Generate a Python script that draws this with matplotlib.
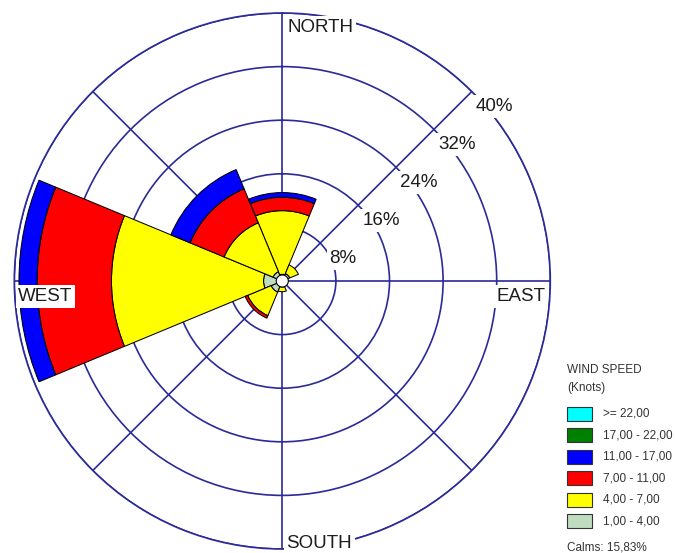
import numpy as np
import matplotlib
matplotlib.use('Agg')
import matplotlib.pyplot as plt
from matplotlib.patches import Rectangle

plt.rcParams['font.family'] = ['Liberation Sans', 'DejaVu Sans']

# wind directions (sector centres), percent frequency per speed class
directions = ['N', 'NE', 'E', 'SE', 'S', 'SW', 'W', 'NW']
dir_angles = [0, 45, 90, 135, 180, 225, 270, 315]
spd_1_4 = [1.0, 1.2, 0.6, 0.4, 0.9, 1.8, 2.8, 1.5]
spd_4_7 = [9.5, 1.4, 0.0, 0.0, 0.7, 3.8, 22.7, 7.9]
spd_7_11 = [2.0, 0.0, 0.0, 0.0, 0.0, 0.4, 11.1, 5.5]
spd_11_17 = [0.7, 0.0, 0.0, 0.0, 0.0, 0.0, 2.7, 3.1]
spd_17_22 = [0.0, 0.0, 0.0, 0.0, 0.0, 0.0, 0.0, 0.0]
spd_22_up = [0.0, 0.0, 0.0, 0.0, 0.0, 0.0, 0.0, 0.0]

speed_classes = [spd_1_4, spd_4_7, spd_7_11, spd_11_17, spd_17_22, spd_22_up]
class_labels = ['1,00 - 4,00', '4,00 - 7,00', '7,00 - 11,00',
                '11,00 - 17,00', '17,00 - 22,00', '>= 22,00']
class_colors = ['#C0DCC0', '#FFFF00', '#FF0000', '#0000FF', '#008000', '#00FFFF']

ring_values = [8, 16, 24, 32, 40]
ring_labels = ['8%', '16%', '24%', '32%', '40%']
compass_labels = ['NORTH', 'EAST', 'SOUTH', 'WEST']
calm_radius = 0.9
calms_text = 'Calms: 15,83%'

grid_col = '#2a2a98'
txt_col = '#1c1c1c'

fig = plt.figure(figsize=(6.75, 5.53), dpi=100)
W, H = 675.0, 553.0
cx, cy, R = 282.3, 281.0, 268.0
ax = fig.add_axes([(cx - R) / W, (H - cy - R) / H, 2 * R / W, 2 * R / H],
                  projection='polar')
ax.set_theta_zero_location('N')
ax.set_theta_direction(-1)
ax.set_ylim(0, 40)
ax.set_axisbelow(True)

theta = np.deg2rad(dir_angles)
width = np.deg2rad(45)
bottom = np.zeros(len(directions))
for vals, col in zip(speed_classes, class_colors):
    vals = np.array(vals)
    m = vals > 0
    ax.bar(theta[m], vals[m], width=width, bottom=bottom[m], color=col,
           edgecolor='black', linewidth=0.75, zorder=2)
    bottom = bottom + vals

# calm circle
t = np.linspace(0, 2 * np.pi, 100)
ax.fill(t, np.full_like(t, calm_radius), facecolor='white', edgecolor='black',
        linewidth=0.8, zorder=3)

ax.set_rgrids(ring_values, labels=[''] * len(ring_values))
ax.set_thetagrids(dir_angles, labels=[''] * len(dir_angles))
ax.grid(True, color=grid_col, linewidth=1.2)
ax.spines['polar'].set_color(grid_col)
ax.spines['polar'].set_linewidth(1.2)
ax.tick_params(length=0)

box = dict(facecolor='white', edgecolor='none', pad=2)
for r, lab in zip(ring_values, ring_labels):
    ax.annotate(lab, xy=(np.pi / 4, r), xytext=(16.5, -11), textcoords='offset points',
                ha='center', va='center', fontsize=13.5, color=txt_col, bbox=box, zorder=5)

# compass labels
ax.annotate(compass_labels[0], xy=(0, 40), xytext=(3.4, -4.3), textcoords='offset points',
            ha='left', va='top', fontsize=13.5, color=txt_col, bbox=box, zorder=5)
ax.annotate(compass_labels[1], xy=(np.pi / 2, 40), xytext=(-3.6, -5.0), textcoords='offset points',
            ha='right', va='top', fontsize=13.5, color=txt_col, bbox=box, zorder=5)
ax.annotate(compass_labels[2], xy=(np.pi, 40), xytext=(3.0, 0.7), textcoords='offset points',
            ha='left', va='baseline', fontsize=13.5, color=txt_col, bbox=box, zorder=5)
ax.annotate(compass_labels[3], xy=(3 * np.pi / 2, 40), xytext=(2.9, -5.0), textcoords='offset points',
            ha='left', va='top', fontsize=13.5, color=txt_col, bbox=box, zorder=5)

# legend
def fx(px):
    return px / W

def fy(py):
    return 1 - py / H

leg_fs = 8.5
fig.text(fx(567), fy(364), 'WIND SPEED', fontsize=leg_fs, color='#333333', va='top')
fig.text(fx(567), fy(382), '(Knots)', fontsize=leg_fs, color='#333333', va='top')
leg_top = 407
for i, (lab, col) in enumerate(zip(class_labels[::-1], class_colors[::-1])):
    y0 = leg_top + i * 21.4
    fig.patches.append(Rectangle((fx(567), fy(y0 + 14)), 25 / W, 14 / H,
                                 facecolor=col, edgecolor='#333333', linewidth=0.8,
                                 transform=fig.transFigure, figure=fig))
    fig.text(fx(603), fy(y0 + 7), lab, fontsize=leg_fs, color='#333333', va='center')
fig.text(fx(567), fy(548), calms_text, fontsize=leg_fs, color='#333333', va='center')

fig.savefig('out.png', dpi=100, facecolor='white')
